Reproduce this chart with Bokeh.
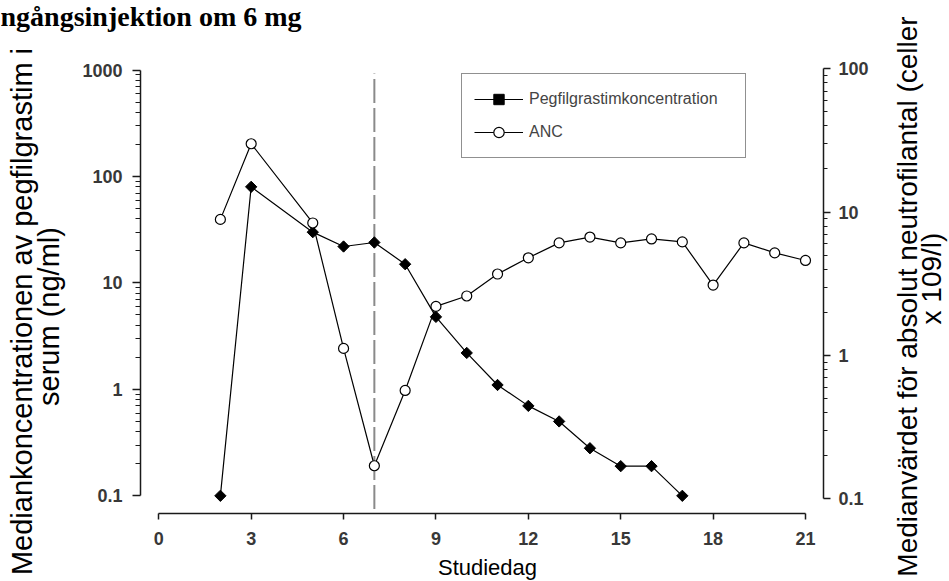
import math
from bokeh.plotting import figure
from bokeh.models import (LinearAxis, LogAxis, Range1d, FixedTicker, Legend, LegendItem,
                          LogScale, Label)
from bokeh.embed import file_html
from bokeh.resources import INLINE

# ---- data ----
days_peg = [2, 3, 5, 6, 7, 8, 9, 10, 11, 12, 13, 14, 15, 16, 17]
peg_conc = [0.1, 80, 30, 22, 24, 15, 4.8, 2.2, 1.1, 0.7, 0.5, 0.28, 0.19, 0.19, 0.1]

days_anc = [2, 3, 5, 6, 7, 8, 9, 10, 11, 12, 13, 14, 15, 16, 17, 18, 19, 20, 21]
anc_vals = [8.9, 30, 8.4, 1.12, 0.17, 0.57, 2.2, 2.6, 3.7, 4.8, 6.1, 6.7, 6.1, 6.5, 6.2, 3.1, 6.1, 5.2, 4.6]

x_ticks = [0, 3, 6, 9, 12, 15, 18, 21]
left_ticks = [0.1, 1, 10, 100, 1000]
left_tick_labels = ["0.1", "1", "10", "100", "1000"]
right_ticks = [0.1, 1, 10, 100]
right_tick_labels = ["0.1", "1", "10", "100"]
injection_day = 7

title_text = "ngångsinjektion om 6 mg"
x_label = "Studiedag"
left_label_lines = ["Mediankoncentrationen av pegfilgrastim i", "serum (ng/ml)"]
right_label_lines = ["Medianvärdet för absolut neutrofilantal (celler", "x 109/l)"]
legend_labels = ["Pegfilgrastimkoncentration", "ANC"]

# ---- layout / style constants ----
W, H = 949, 581
X_RANGE = (-5.140, 25.676)          # whole canvas width in days
Y_LEFT_RANGE = (0.01567, 4505.0)    # whole canvas height, left log axis
Y_RIGHT_RANGE = (0.02648, 299.6)    # whole canvas height, right log axis
LEFT_AXIS_AT = -0.594               # day position of the left axis line
RIGHT_AXIS_AT = 21.585              # day position of the right axis line
BOTTOM_AXIS_AT = 0.06824            # left-scale value of the x axis line
REF_LINE_EXTENT = (0.075, 930.0)    # vertical extent of the dashed day line

def minor_log(lo_exp, hi_exp):
    return [m * 10.0 ** e for e in range(lo_exp, hi_exp) for m in range(2, 10)]

p = figure(width=W, height=H,
           x_range=Range1d(*X_RANGE), y_range=Range1d(*Y_LEFT_RANGE),
           y_axis_type="log", x_axis_location=None, y_axis_location=None,
           output_backend="svg", toolbar_location=None,
           min_border=0, min_border_left=0, min_border_right=0,
           min_border_top=0, min_border_bottom=0)
p.title.visible = False
p.extra_y_ranges = {"anc": Range1d(*Y_RIGHT_RANGE)}
p.extra_y_scales = {"anc": LogScale()}

p.grid.visible = False
p.outline_line_color = None
p.background_fill_color = "white"
p.border_fill_color = "white"

AX_COLOR = "#1a1a1a"
LBL_COLOR = "#383838"

def style_axis(ax):
    ax.axis_line_color = AX_COLOR
    ax.axis_line_width = 1.5
    ax.major_tick_line_color = AX_COLOR
    ax.major_tick_line_width = 1.5
    ax.minor_tick_line_color = AX_COLOR
    ax.minor_tick_line_width = 1.2
    ax.major_tick_in = 0
    ax.minor_tick_in = 0
    ax.major_label_text_font = "Liberation Sans"
    ax.major_label_text_font_size = "18px"
    ax.major_label_text_font_style = "bold"
    ax.major_label_text_color = LBL_COLOR

# x axis
xa = LinearAxis(fixed_location=BOTTOM_AXIS_AT)
style_axis(xa)
xa.ticker = FixedTicker(ticks=x_ticks)
xa.bounds = (x_ticks[0], x_ticks[-1])
xa.major_tick_out = 6
xa.minor_tick_out = 0
xa.major_label_standoff = 13
p.add_layout(xa, "below")

# left axis
ya = LogAxis(fixed_location=LEFT_AXIS_AT)
style_axis(ya)
ya.ticker = FixedTicker(ticks=left_ticks, minor_ticks=minor_log(-1, 3))
ya.major_label_overrides = dict(zip(left_ticks, left_tick_labels))
ya.bounds = (left_ticks[0], left_ticks[-1])
ya.major_tick_out = 8
ya.minor_tick_out = 5
ya.major_label_standoff = 10
p.add_layout(ya, "left")

# right axis
ra = LogAxis(y_range_name="anc", fixed_location=RIGHT_AXIS_AT)
style_axis(ra)
ra.ticker = FixedTicker(ticks=right_ticks, minor_ticks=minor_log(-1, 2))
ra.major_label_overrides = dict(zip(right_ticks, right_tick_labels))
ra.bounds = (right_ticks[0], right_ticks[-1])
ra.major_tick_out = 7
ra.minor_tick_out = 4
ra.major_label_standoff = 8
p.add_layout(ra, "right")

# texts (screen px: x from the left edge, y up from the bottom edge)
def add_text(text, x, y, size, angle=0.0, align="center", baseline="middle",
             font="Liberation Sans", style="normal"):
    p.add_layout(Label(x=x, y=y, x_units="screen", y_units="screen", text=text,
                       angle=angle, text_align=align, text_baseline=baseline,
                       text_font=font, text_font_size=size, text_font_style=style,
                       text_color="black"))

add_text(title_text, 0, H, "28px", align="left", baseline="top",
         font="Liberation Serif", style="bold")
add_text(left_label_lines[0], 21, H - 311, "29px", angle=math.pi / 2)
add_text(left_label_lines[1], 48, H - 316, "29px", angle=math.pi / 2)
add_text(right_label_lines[0], 907, H - 296, "28px", angle=math.pi / 2)
add_text(right_label_lines[1], 931, H - 278, "28px", angle=math.pi / 2)
add_text(x_label, 487, H - 567, "22px")

# injection day reference line
p.segment(x0=[injection_day], y0=[REF_LINE_EXTENT[0]],
          x1=[injection_day], y1=[REF_LINE_EXTENT[1]],
          line_color="#8a8a8a", line_width=2, line_dash="24 5")

# series
peg_line = p.line(days_peg, peg_conc, line_color="black", line_width=1.2)
peg_pts = p.scatter(days_peg, peg_conc, marker="square", angle=math.pi / 4,
                    size=8, fill_color="black", line_color="black", line_width=1)
anc_line = p.line(days_anc, anc_vals, line_color="black", line_width=1.2, y_range_name="anc")
anc_pts = p.scatter(days_anc, anc_vals, marker="circle", size=10,
                    fill_color="white", line_color="black", line_width=1.2, y_range_name="anc")

legend = Legend(items=[LegendItem(label=legend_labels[0], renderers=[peg_line, peg_pts]),
                       LegendItem(label=legend_labels[1], renderers=[anc_line, anc_pts])],
                location=(461, H - 158), padding=12, spacing=7, margin=0,
                label_height=26, glyph_height=26, glyph_width=49,
                label_standoff=6, label_width=204,
                label_text_font="Liberation Sans", label_text_font_size="16px",
                border_line_color="#222222", border_line_width=1.5,
                background_fill_color="white", background_fill_alpha=1)
p.add_layout(legend)

open("out.html", "w").write(file_html(p, INLINE))
